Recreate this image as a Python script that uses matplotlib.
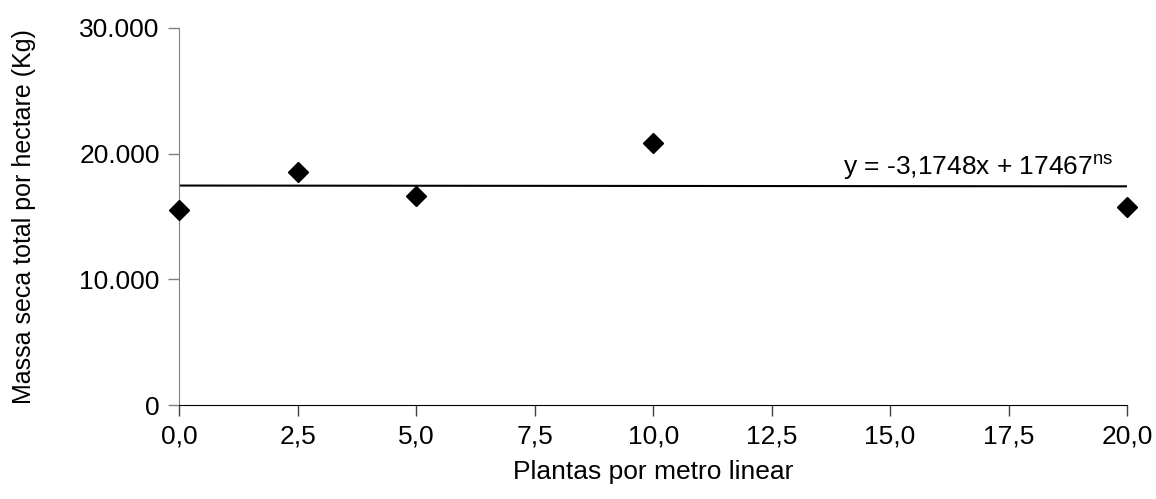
import numpy as np
import matplotlib
matplotlib.use('Agg')
import matplotlib.pyplot as plt

plt.rcParams['font.family'] = ['Liberation Sans', 'DejaVu Sans']
plt.rcParams['mathtext.fontset'] = 'custom'
plt.rcParams['mathtext.rm'] = 'Liberation Sans'

# plants per linear metre vs total dry mass per hectare
plantas = [0.0, 2.5, 5.0, 10.0, 20.0]
massa = [15520, 18520, 16610, 20860, 15790]

# fitted line shown on the chart
slope = -3.1748
intercept = 17467

x_ticks = [0, 2.5, 5, 7.5, 10, 12.5, 15, 17.5, 20]
x_labels = ['0,0', '2,5', '5,0', '7,5', '10,0', '12,5', '15,0', '17,5', '20,0']
y_ticks = [0, 10000, 20000, 30000]
y_labels = ['0', '10.000', '20.000', '30.000']

fs = 19

fig = plt.figure(figsize=(11.56, 4.99), dpi=100)
ax = fig.add_axes([0.155, 0.188, 0.82, 0.756])

x_fit = np.array([min(plantas), max(plantas)])
ax.plot(x_fit, slope * x_fit + intercept, color='black', lw=1.5, zorder=2)
ax.plot(plantas, massa, linestyle='none', marker='D', ms=10.5,
        color='black', clip_on=False, zorder=3)

ax.text(14.0, 18350, r'y = -3,1748x + 17467$^{\mathrm{ns}}$',
        fontsize=fs, ha='left', va='baseline')

ax.set_xlim(0, 20)
ax.set_ylim(0, 30000)
ax.set_xticks(x_ticks)
ax.set_xticklabels(x_labels)
ax.set_yticks(y_ticks)
ax.set_yticklabels(y_labels)

for s in ['top', 'right']:
    ax.spines[s].set_visible(False)
ax.spines['left'].set_color('#808080')
ax.spines['bottom'].set_color('black')
ax.tick_params(axis='y', length=8, width=1, color='#808080', labelsize=fs, pad=6)
ax.tick_params(axis='x', length=8, width=1, color='#404040', labelsize=fs, pad=6)

ax.set_xlabel('Plantas por metro linear', fontsize=fs, labelpad=8)
ax.set_ylabel('Massa seca total por hectare (Kg)', fontsize=18, labelpad=31)

fig.savefig('out.png', dpi=100)
